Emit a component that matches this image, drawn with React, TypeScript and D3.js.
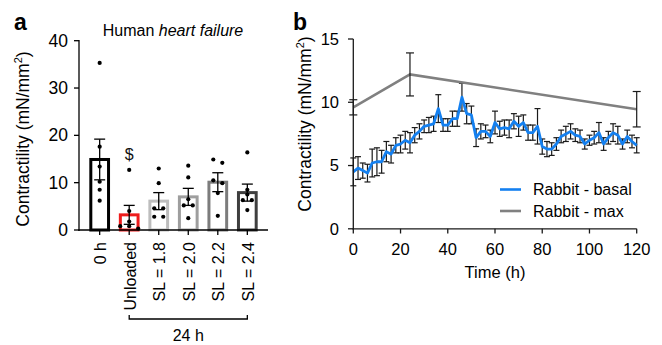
import React from "react";
import * as d3 from "d3";

// panel a: human heart failure slices
const groups = ["0 h", "Unloaded", "SL = 1.8", "SL = 2.0", "SL = 2.2", "SL = 2.4"];
const groupMeans = [14.9, 3.2, 6.1, 7.0, 10.1, 7.9];
const groupSem = [4.3, 2.0, 1.8, 1.8, 2.0, 1.8];
const groupColors = ["#000000", "#ee1c1c", "#bdbdbd", "#9e9e9e", "#7c7c7c", "#3f3f3f"];
const groupPoints = [
  [35.3, 17.6, 13.4, 10.2, 8.5, 6.2],
  [12.7, 4.0, 1.8, 0.8, 0.8, 0.3],
  [13.0, 9.9, 4.6, 4.6, 2.8, 2.8],
  [13.6, 11.1, 6.5, 5.2, 5.2, 2.5],
  [14.9, 14.2, 10.5, 9.9, 7.8, 3.0],
  [16.4, 8.5, 7.5, 6.3, 6.3, 4.2],
];
const yTicksA = [0, 10, 20, 30, 40];

// panel b: rabbit time course
const basalTime = [
  0, 2, 4, 6, 8, 10, 12, 14, 16, 18, 20, 22, 24, 26, 28, 30, 32, 34, 36, 38,
  40, 42, 44, 46, 48, 50, 52, 54, 56, 58, 60, 62, 64, 66, 68, 70, 72, 74, 76, 78,
  80, 82, 84, 86, 88, 90, 92, 94, 96, 98, 100, 102, 104, 106, 108, 110, 112, 114, 116, 118, 120,
];
const basalMean = [
  4.5, 4.8, 4.6, 4.4, 5.2, 5.3, 5.3, 6.1, 5.9, 6.6,
  6.7, 7.0, 6.8, 7.4, 7.7, 8.1, 8.2, 8.3, 9.5, 8.2,
  8.2, 8.7, 8.7, 10.4, 9.1, 9.0, 7.2, 7.7, 7.7, 7.3,
  8.4, 7.9, 8.0, 7.9, 8.5, 8.1, 8.4, 7.6, 7.6, 8.1,
  6.5, 6.3, 6.3, 6.7, 7.3, 7.5, 7.7, 7.4, 7.3, 6.7,
  7.0, 7.2, 7.6, 6.7, 7.2, 7.6, 7.4, 6.7, 7.3, 6.9,
  6.6,
];
const basalSem = [
  1.1, 0.9, 0.6, 0.7, 1.1, 1.1, 0.9, 0.8, 0.7, 0.6,
  0.7, 0.7, 0.8, 0.6, 0.6, 0.5, 0.6, 0.6, 1.1, 0.5,
  0.5, 0.6, 0.6, 1.1, 0.8, 0.7, 0.7, 0.6, 0.5, 0.5,
  0.9, 0.6, 0.6, 0.7, 0.6, 0.8, 0.6, 0.6, 0.6, 1.4,
  0.6, 0.6, 0.5, 0.5, 0.5, 0.6, 0.6, 0.5, 0.5, 0.4,
  0.4, 0.5, 0.8, 0.5, 0.5, 0.7, 0.7, 0.4, 0.5, 0.5,
  0.6,
];
const maxTime = [0, 24, 120];
const maxMean = [9.6, 12.2, 9.45];
const maxSem = [0.6, 1.7, 1.4];
const xTicksB = [0, 20, 40, 60, 80, 100, 120];
const yTicksB = [0, 5, 10, 15];

const FONT = "'Liberation Sans', Arial, Helvetica, sans-serif";

// spread dots with near-equal values sideways
function jitter(vals: number[]) {
  const order = vals.map((v, i) => i).sort((a, b) => vals[b] - vals[a]);
  const off = new Array(vals.length).fill(0);
  let cluster: number[] = [];
  const flush = () => {
    cluster.forEach((idx, k) => (off[idx] = (k - (cluster.length - 1) / 2) * 9));
    cluster = [];
  };
  order.forEach((idx) => {
    if (cluster.length && vals[cluster[cluster.length - 1]] - vals[idx] > 0.9) flush();
    cluster.push(idx);
  });
  flush();
  return off;
}

function PanelA() {
  const x = d3.scaleBand<string>().domain(groups).range([79, 268]).padding(0.4);
  const y = d3.scaleLinear().domain([0, 40]).range([230, 40.7]);
  const cx = (g: string) => (x(g) as number) + x.bandwidth() / 2;

  return (
    <g>
      <text x={14} y={30} fontSize={23} fontWeight="bold">a</text>
      <text x={173} y={36} fontSize={16} textAnchor="middle">
        Human <tspan fontStyle="italic">heart failure</tspan>
      </text>
      <text transform={`translate(29,139) rotate(-90)`} fontSize={17.5} textAnchor="middle">
        Contractility (mN/mm<tspan fontSize={11} dy={-7}>2</tspan><tspan dy={7}>)</tspan>
      </text>

      {groups.map((g, i) => {
        const c = cx(g);
        const offs = jitter(groupPoints[i]);
        return (
          <g key={g}>
            <rect x={x(g)} y={y(groupMeans[i])} width={x.bandwidth()} height={y(0) - y(groupMeans[i])}
              fill="white" stroke={groupColors[i]} strokeWidth={3} />
            <line x1={c} x2={c} y1={y(groupMeans[i] + groupSem[i])} y2={y(groupMeans[i] - groupSem[i])} stroke="#000" strokeWidth={1.3} />
            <line x1={c - 5.5} x2={c + 5.5} y1={y(groupMeans[i] + groupSem[i])} y2={y(groupMeans[i] + groupSem[i])} stroke="#000" strokeWidth={1.3} />
            <line x1={c - 5.5} x2={c + 5.5} y1={y(groupMeans[i] - groupSem[i])} y2={y(groupMeans[i] - groupSem[i])} stroke="#000" strokeWidth={1.3} />
            {groupPoints[i].map((v, j) => (
              <circle key={j} cx={c + offs[j]} cy={y(v)} r={2.1} fill="#000" />
            ))}
          </g>
        );
      })}

      <text x={cx("Unloaded")} y={160} fontSize={16} textAnchor="middle" fill="#111">$</text>

      {/* axes */}
      <line x1={79} x2={79} y1={40} y2={231} stroke="#000" strokeWidth={1.3} />
      {yTicksA.map((t) => (
        <g key={t}>
          <line x1={74} x2={79} y1={y(t)} y2={y(t)} stroke="#000" strokeWidth={1.3} />
          <text x={68} y={y(t)} dy="0.35em" fontSize={17.5} textAnchor="end">{t}</text>
        </g>
      ))}
      <line x1={78.4} x2={268} y1={230} y2={230} stroke="#000" strokeWidth={1.3} />
      {groups.map((g) => (
        <g key={g}>
          <line x1={cx(g)} x2={cx(g)} y1={230} y2={235} stroke="#000" strokeWidth={1.3} />
          <text transform={`translate(${cx(g) + 1},242) rotate(-90)`} fontSize={16} textAnchor="end" dy="0.35em">{g}</text>
        </g>
      ))}
      <path d={`M${cx("Unloaded")},315V319H${cx("SL = 2.4")}V315`} fill="none" stroke="#000" strokeWidth={1.3} />
      <text x={(cx("Unloaded") + cx("SL = 2.4")) / 2} y={341} fontSize={16} textAnchor="middle">24 h</text>
    </g>
  );
}

function PanelB() {
  const x = d3.scaleLinear().domain([0, 120]).range([353.3, 636.7]);
  const y = d3.scaleLinear().domain([0, 15]).range([228.8, 39]);
  const line = d3.line<number>().x((d, i) => x(basalTime[i])).y((d) => y(d));
  const maxLine = d3.line<number>().x((d, i) => x(maxTime[i])).y((d) => y(d));

  const errBar = (t: number, m: number, s: number, w: number, key: string) => (
    <g key={key} stroke="#1a1a1a" strokeWidth={1.2}>
      <line x1={x(t)} x2={x(t)} y1={y(m + s)} y2={y(m - s)} />
      <line x1={x(t) - w} x2={x(t) + w} y1={y(m + s)} y2={y(m + s)} />
      <line x1={x(t) - w} x2={x(t) + w} y1={y(m - s)} y2={y(m - s)} />
    </g>
  );

  return (
    <g>
      <text x={293} y={30} fontSize={23} fontWeight="bold">b</text>
      <text transform={`translate(311,124) rotate(-90)`} fontSize={17.5} textAnchor="middle">
        Contractility (mN/mm<tspan fontSize={11} dy={-7}>2</tspan><tspan dy={7}>)</tspan>
      </text>

      {basalTime.map((t, i) => errBar(t, basalMean[i], basalSem[i], 3, "b" + i))}
      <path d={line(basalMean) || ""} fill="none" stroke="#1480f0" strokeWidth={2.8} strokeLinejoin="round" />
      <path d={maxLine(maxMean) || ""} fill="none" stroke="#808080" strokeWidth={2.6} />
      {maxTime.map((t, i) => errBar(t, maxMean[i], maxSem[i], 4, "m" + i))}

      {/* axes */}
      <line x1={353.3} x2={353.3} y1={39} y2={229.5} stroke="#1a1a1a" strokeWidth={1.3} />
      {yTicksB.map((t) => (
        <g key={t}>
          <line x1={348} x2={353.3} y1={y(t)} y2={y(t)} stroke="#1a1a1a" strokeWidth={1.3} />
          <text x={339} y={y(t)} dy="0.35em" fontSize={16.5} textAnchor="end">{t}</text>
        </g>
      ))}
      <line x1={352.7} x2={636.7} y1={228.8} y2={228.8} stroke="#1a1a1a" strokeWidth={1.3} />
      {xTicksB.map((t) => (
        <g key={t}>
          <line x1={x(t)} x2={x(t)} y1={228.8} y2={233.5} stroke="#1a1a1a" strokeWidth={1.3} />
          <text x={x(t)} y={255} fontSize={16.5} textAnchor="middle">{t}</text>
        </g>
      ))}
      <text x={495} y={278} fontSize={16.5} textAnchor="middle">Time (h)</text>

      {/* legend */}
      <line x1={500} x2={521} y1={189.5} y2={189.5} stroke="#1480f0" strokeWidth={2.6} />
      <text x={533} y={189.5} dy="0.35em" fontSize={16}>Rabbit - basal</text>
      <line x1={500} x2={521} y1={211} y2={211} stroke="#808080" strokeWidth={2.6} />
      <text x={533} y={211} dy="0.35em" fontSize={16}>Rabbit - max</text>
    </g>
  );
}

export default function App() {
  return (
    <svg width={662} height={345} style={{ position: "absolute", left: 0, top: 0, fontFamily: FONT, background: "white" }}>
      <rect width={662} height={345} fill="white" />
      <PanelA />
      <PanelB />
    </svg>
  );
}
